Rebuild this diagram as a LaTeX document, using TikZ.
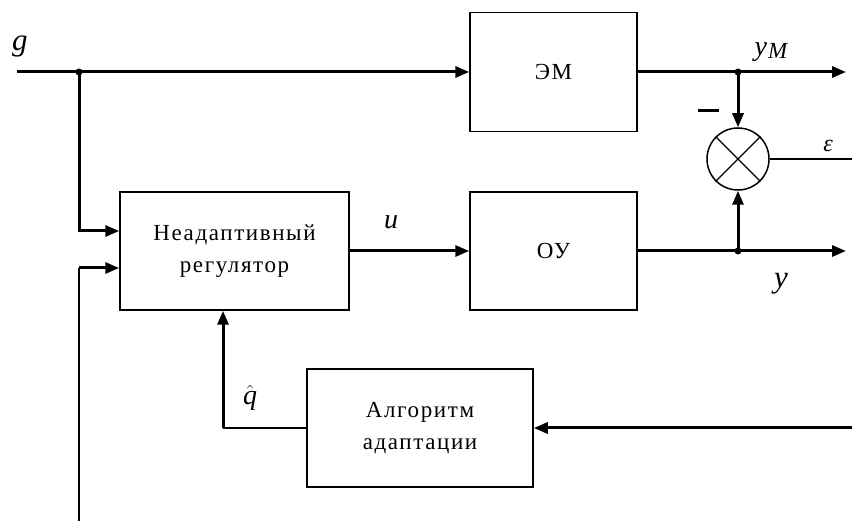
\documentclass[tikz,border=0pt]{standalone}
\usepackage{fontspec}
\setmainfont{Liberation Serif}
\newfontfamily\blockfont[LetterSpace=7]{Liberation Serif}
\usetikzlibrary{arrows.meta}

\tikzset{
  block/.style={draw, line width=1.5pt, fill=white, inner sep=0pt,
    font=\blockfont\fontsize{23}{32}\selectfont, align=center},
  sigbold/.style={line width=3pt},
  sigthin/.style={line width=1.4pt},
  tip/.style={-{Triangle[length=14pt,width=11pt]}},
  junction/.style={circle, fill=black, inner sep=0pt, minimum size=7pt},
  varlabel/.style={font=\itshape\fontsize{31}{33}\selectfont, inner sep=0pt}
}

\begin{document}
\begin{tikzpicture}[x=1pt, y=-1pt]
\useasboundingbox (0,0) rectangle (852,521);
\fill[white] (0,0) rectangle (852,521);

% blocks
\node[block, minimum width=167pt, minimum height=119pt] (em)  at (553.5,72)  {ЭМ};
\node[block, minimum width=167pt, minimum height=118pt] (ou)  at (553.5,251) {ОУ};
\node[block, minimum width=229pt, minimum height=118pt] (reg) at (234.5,251) {Неадаптивный\\регулятор};
\node[block, minimum width=226pt, minimum height=118pt] (alg) at (420,428)   {Алгоритм\\адаптации};

% comparator
\node[draw, circle, line width=1.5pt, minimum size=62pt, inner sep=0pt] (cmp) at (738,159) {};
\draw[line width=1.4pt] (cmp.north west) -- (cmp.south east);
\draw[line width=1.4pt] (cmp.north east) -- (cmp.south west);

% points on the signal lines
\coordinate (gin)  at (17,72);
\coordinate (gsplit) at (79,72);
\coordinate (fbot) at (79,521);
\coordinate (fcorner) at (79,268);
\coordinate (ymsplit) at (738,72);
\coordinate (ymend) at (846,72);
\coordinate (ysplit) at (738,251);
\coordinate (yend) at (846,251);
\coordinate (epsend) at (852,159);
\coordinate (ain) at (852,428);
\coordinate (qcorner) at (223,428);

% reference path
\draw[sigbold, tip] (gin) -- (em.west);
\draw[sigbold, tip] (gsplit) |- ([yshift=20pt]reg.west);
\draw[sigthin] (fbot) -- (fcorner);
\draw[sigbold, tip] (fcorner) -- ([yshift=-17pt]reg.west);
\node[junction] (jg) at (gsplit) {};

% control and outputs
\draw[sigbold, tip] (reg.east) -- (ou.west);
\draw[sigbold, tip] (em.east) -- (ymend);
\draw[sigbold, tip] (ou.east) -- (yend);
\draw[sigbold, tip] (ymsplit) -- (cmp.north);
\draw[sigbold, tip] (ysplit) -- (cmp.south);
\node[junction] (jm) at (ymsplit) {};
\node[junction] (jy) at (ysplit) {};
\draw[sigthin] (cmp.east) -- (epsend);

% adaptation loop
\draw[sigbold, tip] (ain) -- (alg.east);
\draw[sigthin] (alg.west) -- (qcorner);
\draw[sigbold, tip] (qcorner) -- (qcorner |- reg.south);

% labels
\node[varlabel] (lg)  at (20,47)   {g};
\node[varlabel, font=\itshape\fontsize{28}{30}\selectfont] (lym) at (771,52)
  {y\kern1pt\raisebox{-3pt}{\fontsize{23}{25}\selectfont M}};
\node[varlabel, font=\itshape\fontsize{28}{30}\selectfont] (lu) at (391,222) {u};
\node[varlabel] (ly)  at (781,284) {y};
\node[varlabel, font=\itshape\fontsize{28}{30}\selectfont] (lq) at (250,398) {$\hat{\mbox{\itshape q}}$};
\node[varlabel, font=\itshape\fontsize{24}{26}\selectfont] (le) at (828,146) {ε};
\node[inner sep=0pt] (minus) at (708,111) {\rule{21pt}{3pt}};
\end{tikzpicture}
\end{document}
